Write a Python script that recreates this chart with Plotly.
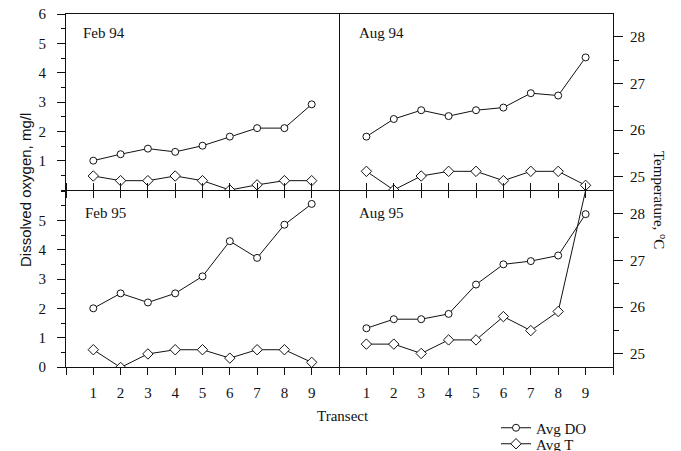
import plotly.graph_objects as go

# ---------------- data ----------------
transects = [1, 2, 3, 4, 5, 6, 7, 8, 9]

feb94_do = [1.00, 1.22, 1.41, 1.30, 1.51, 1.82, 2.11, 2.11, 2.92]
feb94_t = [25.02, 24.92, 24.92, 25.02, 24.92, 24.72, 24.83, 24.92, 24.92]

aug94_do = [1.82, 2.42, 2.72, 2.52, 2.72, 2.81, 3.30, 3.22, 4.52]
aug94_t = [25.12, 24.72, 25.02, 25.12, 25.12, 24.92, 25.12, 25.12, 24.82]

feb95_do = [2.00, 2.51, 2.20, 2.51, 3.09, 4.29, 3.72, 4.85, 5.56]
feb95_t = [25.09, 24.71, 25.00, 25.09, 25.09, 24.91, 25.09, 25.09, 24.82]

aug95_do = [1.32, 1.63, 1.63, 1.81, 2.81, 3.50, 3.61, 3.80, 5.21]
aug95_t = [25.21, 25.21, 25.01, 25.30, 25.30, 25.80, 25.50, 25.91, 28.50]

panel_names = ["Feb 94", "Aug 94", "Feb 95", "Aug 95"]
x_tickvals = list(range(0, 11))
x_ticktext = [" "] + [str(v) for v in transects] + [" "]
do_top_ticks = [1, 2, 3, 4, 5, 6]
do_bot_ticks = [0, 1, 2, 3, 4, 5]
t_ticks = [25, 26, 27, 28]

# ---------------- layout geometry ----------------
W, H = 681, 451
OFF = 8  # page body margin of the browser
XL, XM, XR = 66, 339, 613
YT, YM, YB = 14, 190, 367

def px_x(v):
    return (v - OFF) / W

def px_y(v):
    return 1 - (v - OFF) / H

dom_left = [px_x(XL), px_x(XM)]
dom_right = [px_x(XM), px_x(XR)]
dom_top = [px_y(YM), px_y(YT)]
dom_bot = [px_y(YB), px_y(YM + 1)]

X_RANGE = [0, 10]
DO_RANGE = [0, 6]
T_RANGE = [24.72, 28.49]

SERIF = "Liberation Serif"
SANS = "Liberation Sans"
BLACK = "#111111"
tick_font = dict(family=SERIF, size=15, color=BLACK)

fig = go.Figure()

panels = [
    (feb94_do, feb94_t, "x", "y", "y3", True),
    (aug94_do, aug94_t, "x2", "y", "y3", False),
    (feb95_do, feb95_t, "x3", "y2", "y4", False),
    (aug95_do, aug95_t, "x4", "y2", "y4", False),
]

for i, (do, t, xa, ydo, yt, show) in enumerate(panels):
    fig.add_trace(go.Scatter(
        x=transects, y=do, xaxis=xa, yaxis=ydo, mode="lines+markers",
        name="Avg DO", showlegend=show, legend="legend",
        line=dict(color=BLACK, width=1),
        marker=dict(symbol="circle", size=7, color="white",
                    line=dict(color=BLACK, width=1)),
        cliponaxis=False,
    ))
    fig.add_trace(go.Scatter(
        x=transects, y=t, xaxis=xa, yaxis=yt, mode="lines+markers",
        name="Avg T", showlegend=show, legend="legend2",
        line=dict(color=BLACK, width=1),
        marker=dict(symbol="diamond", size=8, color="white",
                    line=dict(color=BLACK, width=1)),
        cliponaxis=(i != 3),
    ))

common_x = dict(range=X_RANGE, tickmode="array", tickvals=x_tickvals,
                showgrid=False, zeroline=False, showline=True,
                linecolor=BLACK, linewidth=1, tickcolor=BLACK,
                tickwidth=1, ticklen=7, fixedrange=True,
                ticklabeloverflow="allow")

layout_axes = dict(
    xaxis=dict(common_x, domain=dom_left, anchor="y", ticks="outside",
               mirror=True, showticklabels=False),
    xaxis2=dict(common_x, domain=dom_right, anchor="y", ticks="outside",
                mirror=True, showticklabels=False),
    xaxis3=dict(common_x, domain=dom_left, anchor="y2", ticks="outside",
                mirror="ticks", ticktext=x_ticktext, tickfont=tick_font,
                ticklabelstandoff=5),
    xaxis4=dict(common_x, domain=dom_right, anchor="y2", ticks="outside",
                mirror="ticks", ticktext=x_ticktext, tickfont=tick_font,
                ticklabelstandoff=5),
    xaxis5=dict(common_x, domain=dom_left, anchor="y2", overlaying="x3",
                ticks="inside", ticklen=6, showline=False,
                showticklabels=False),
    xaxis6=dict(common_x, domain=dom_right, anchor="y2", overlaying="x4",
                ticks="inside", ticklen=6, showline=False,
                showticklabels=False),
)

common_do = dict(range=DO_RANGE, tickmode="array", showgrid=False,
                 zeroline=False, linecolor=BLACK, linewidth=1,
                 tickcolor=BLACK, tickwidth=1, ticklen=8, fixedrange=True,
                 tickfont=tick_font, ticklabeloverflow="allow")
minor_out = dict(dtick=0.5, tick0=0, ticks="outside", ticklen=4,
                 tickcolor=BLACK, tickwidth=1)
minor_in = dict(dtick=0.5, tick0=0, ticks="inside", ticklen=4,
                tickcolor=BLACK, tickwidth=1)

layout_axes.update(
    yaxis=dict(common_do, domain=dom_top, anchor="x", side="left",
               tickvals=do_top_ticks, ticks="outside", showline=True,
               mirror=True, minor=minor_out, ticklabelstandoff=8),
    yaxis2=dict(common_do, domain=dom_bot, anchor="x3", side="left",
                tickvals=do_bot_ticks, ticks="outside", showline=True,
                mirror=True, minor=minor_out, ticklabelstandoff=8),
    yaxis5=dict(common_do, domain=dom_top, anchor="x", side="left",
                overlaying="y", tickvals=do_top_ticks, ticks="inside",
                showline=False, showticklabels=False, minor=minor_in),
    yaxis6=dict(common_do, domain=dom_bot, anchor="x3", side="left",
                overlaying="y2", tickvals=do_bot_ticks, ticks="inside",
                showline=False, showticklabels=False, minor=minor_in),
)

common_t = dict(range=T_RANGE, tickmode="array", tickvals=t_ticks,
                showgrid=False, zeroline=False, linecolor=BLACK,
                linewidth=1, tickcolor=BLACK, tickwidth=1, ticklen=9,
                fixedrange=True, tickfont=tick_font, side="right",
                ticklabeloverflow="allow")
tminor_out = dict(dtick=0.5, tick0=25, ticks="outside", ticklen=5,
                  tickcolor=BLACK, tickwidth=1)
tminor_in = dict(dtick=0.5, tick0=25, ticks="inside", ticklen=5,
                 tickcolor=BLACK, tickwidth=1)

layout_axes.update(
    yaxis3=dict(common_t, domain=dom_top, anchor="x2", overlaying="y",
                ticks="outside", showline=True, minor=tminor_out,
                ticklabelstandoff=4),
    yaxis4=dict(common_t, domain=dom_bot, anchor="x4", overlaying="y2",
                ticks="outside", showline=True, minor=tminor_out,
                ticklabelstandoff=4),
    yaxis7=dict(common_t, domain=dom_top, anchor="x2", overlaying="y",
                ticks="inside", showline=False, showticklabels=False,
                minor=tminor_in),
    yaxis8=dict(common_t, domain=dom_bot, anchor="x4", overlaying="y2",
                ticks="inside", showline=False, showticklabels=False,
                minor=tminor_in),
)

ann_font = dict(family=SERIF, size=15, color=BLACK)
annotations = [
    dict(text=panel_names[0], xref="x domain", yref="y domain",
         x=0.055, y=0.89, xanchor="left", yanchor="middle",
         showarrow=False, font=ann_font),
    dict(text=panel_names[1], xref="x2 domain", yref="y domain",
         x=0.066, y=0.89, xanchor="left", yanchor="middle",
         showarrow=False, font=ann_font),
    dict(text=panel_names[2], xref="x3 domain", yref="y2 domain",
         x=0.062, y=0.875, xanchor="left", yanchor="middle",
         showarrow=False, font=ann_font),
    dict(text=panel_names[3], xref="x4 domain", yref="y2 domain",
         x=0.066, y=0.875, xanchor="left", yanchor="middle",
         showarrow=False, font=ann_font),
    dict(text="Transect", xref="paper", yref="paper",
         x=px_x(343), y=px_y(416), xanchor="center", yanchor="middle",
         showarrow=False, font=ann_font),
    dict(text="Dissolved oxygen, mg/l", xref="paper", yref="paper",
         x=px_x(25), y=px_y(190), xanchor="center", yanchor="middle",
         textangle=-90, showarrow=False,
         font=dict(family=SANS, size=15, color=BLACK)),
    dict(text="Temperature, <sup>o</sup>C", xref="paper", yref="paper",
         x=px_x(660), y=px_y(200), xanchor="center", yanchor="middle",
         textangle=90, showarrow=False, font=ann_font),
]

legend_style = dict(font=dict(family=SERIF, size=15, color=BLACK),
                    bgcolor="rgba(0,0,0,0)", borderwidth=0, itemwidth=30,
                    xanchor="left", yanchor="middle", tracegroupgap=0)

fig.update_layout(
    **layout_axes,
    width=W, height=H,
    margin=dict(l=0, r=0, t=0, b=0, autoexpand=False),
    template="none",
    paper_bgcolor="white", plot_bgcolor="rgba(0,0,0,0)",
    annotations=annotations,
    legend=dict(legend_style, x=px_x(496), y=px_y(428)),
    legend2=dict(legend_style, x=px_x(496), y=px_y(444)),
    showlegend=True,
)

fig.write_html("out.html")
